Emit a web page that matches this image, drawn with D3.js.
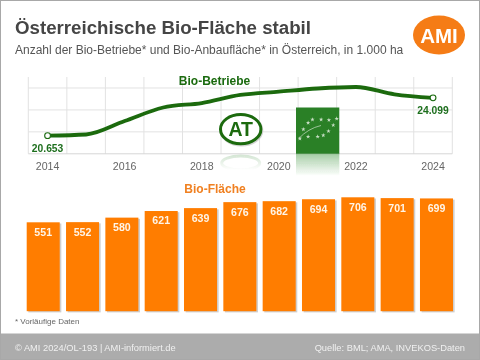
<!DOCTYPE html>
<html><head><meta charset="utf-8">
<script src="https://cdnjs.cloudflare.com/ajax/libs/d3/7.8.5/d3.min.js"></script>
<style>html,body{margin:0;padding:0;background:#fff}svg{display:block}text{font-family:"Liberation Sans",Arial,sans-serif}</style>
</head><body><svg id="c" width="480" height="360"></svg>
<script>
const years=[2014,2015,2016,2017,2018,2019,2020,2021,2022,2023,2024];
const betriebe=[20653,20760,21990,23220,23630,24360,24660,24950,25090,24420,24099];
const flaeche=[551,552,580,621,639,676,682,694,706,701,699];
const tickYears=[2014,2016,2018,2020,2022,2024];
const gridValues=[19000,21000,23000,25000];
const fmt=v=>d3.format(",")(v).replace(",",".");

const svg=d3.select("#c");
const defs=svg.append("defs");
const grad=(id,col,a)=>{const g=defs.append("linearGradient").attr("id",id).attr("x1",0).attr("y1",0).attr("x2",0).attr("y2",1);
 g.append("stop").attr("offset",0).attr("stop-color",col).attr("stop-opacity",a);
 g.append("stop").attr("offset",1).attr("stop-color",col).attr("stop-opacity",0);};
grad("rg","#2b8a2b",.42);grad("rg2","#1a6a10",.16);
defs.append("filter").attr("id","soft").append("feGaussianBlur").attr("stdDeviation",.4);

svg.append("rect").attr("width",480).attr("height",360).attr("fill","#fff");

const root=svg.append("g").attr("filter","url(#soft)");

// line chart scales
const x=d3.scaleBand().domain(years).range([28.3,452.3]);
const y=d3.scaleLinear().domain([19000,26000]).range([153.8,77]);
const cx=d=>x(d)+x.bandwidth()/2;

// grid
const grid=root.append("g").attr("stroke","#e2e2e2").attr("stroke-width",1);
grid.selectAll(".v").data(years.concat([null])).join("line")
 .attr("x1",d=>d===null?x.range()[1]:x(d)).attr("x2",d=>d===null?x.range()[1]:x(d))
 .attr("y1",y.range()[1]).attr("y2",y.range()[0]);
grid.selectAll(".h").data(gridValues).join("line")
 .attr("x1",x.range()[0]).attr("x2",x.range()[1]).attr("y1",d=>y(d)).attr("y2",d=>y(d))
 .attr("stroke",d=>d===19000?"#d6d6d6":"#e2e2e2");

// AT logo
const at=root.append("g").attr("transform","translate(240.7,129.2)");
at.append("ellipse").attr("cx",.8).attr("cy",1).attr("rx",20.3).attr("ry",14.8).attr("fill","none").attr("stroke","#aaa").attr("stroke-width",3).attr("opacity",.5);
at.append("ellipse").attr("rx",20.2).attr("ry",14.6).attr("fill","#fff").attr("stroke","#1a6a10").attr("stroke-width",3);
at.append("text").attr("text-anchor","middle").attr("y",7).attr("font-size",19.5).attr("font-weight",700).attr("fill","#1a6a10").text("AT");
root.append("ellipse").attr("cx",240.7).attr("cy",163).attr("rx",19).attr("ry",7).attr("fill","none").attr("stroke","url(#rg2)").attr("stroke-width",3);

// EU organic leaf
const leafX=296,leafY=107.5,leafW=43.3,leafH=46.3;
root.append("rect").attr("x",leafX).attr("y",leafY+leafH).attr("width",leafW).attr("height",22).attr("fill","url(#rg)");
root.append("rect").attr("x",leafX).attr("y",leafY).attr("width",leafW).attr("height",leafH).attr("fill","#2a8028");
const starsAt=[[.38,.26],[.58,.26],[.76,.27],[.94,.24],[.86,.38],[.75,.51],[.63,.6],[.5,.63],[.28,.63],[.09,.67],[.17,.47],[.28,.33]];
const star=d3.symbol().type(d3.symbolStar).size(6)();
root.selectAll(".star").data(starsAt).join("path").attr("d",star).attr("fill","#c9dec4")
 .attr("transform",d=>`translate(${leafX+d[0]*leafW},${leafY+d[1]*leafH})`);
root.append("path").attr("d",`M${leafX+2.5},${leafY+leafH-15} Q${leafX+12},${leafY+21} ${leafX+25},${leafY+18}`)
 .attr("fill","none").attr("stroke","#c9dec4").attr("stroke-width",.7);

// line
const line=d3.line().x((d,i)=>cx(years[i])).y(d=>y(d)).curve(d3.curveMonotoneX);
root.append("path").datum(betriebe).attr("d",line).attr("fill","none").attr("stroke","#1a6a10").attr("stroke-width",3.8).attr("stroke-linecap","round");
const ends=[0,betriebe.length-1];
root.selectAll(".end").data(ends).join("circle").attr("cx",i=>cx(years[i])).attr("cy",i=>y(betriebe[i])).attr("r",2.9)
 .attr("fill","#fff").attr("stroke","#1a6a10").attr("stroke-width",1.1);
root.selectAll(".endl").data(ends).join("text").attr("x",i=>cx(years[i])).attr("y",i=>y(betriebe[i])+16.2)
 .attr("text-anchor","middle").attr("font-size",10.3).attr("font-weight",700).attr("fill","#1f6f1f").text(i=>fmt(betriebe[i]));

// year ticks
root.selectAll(".yr").data(tickYears).join("text").attr("x",cx).attr("y",170.3).attr("text-anchor","middle")
 .attr("font-size",10.6).attr("fill","#666").text(d=>d);

// bars
const bx=d3.scaleBand().domain(years).range([23.7,456]).paddingInner(6.3/39.33).paddingOuter(3/39.33);
const by=d3.scaleLinear().domain([0,706]).range([311.2,197.3]);
const bars=root.append("g");
bars.selectAll(".sh").data(flaeche).join("rect").attr("x",(d,i)=>bx(years[i])+1.6).attr("y",d=>by(d)+1.2)
 .attr("width",bx.bandwidth()).attr("height",d=>by(0)-by(d)).attr("fill","#cfcfcf");
bars.selectAll(".b").data(flaeche).join("rect").attr("x",(d,i)=>bx(years[i])).attr("y",d=>by(d))
 .attr("width",bx.bandwidth()).attr("height",d=>by(0)-by(d)).attr("fill","#ff7d00");
bars.selectAll(".bl").data(flaeche).join("text").attr("x",(d,i)=>bx(years[i])+bx.bandwidth()/2).attr("y",d=>by(d)+13.4)
 .attr("text-anchor","middle").attr("font-size",10.6).attr("font-weight",700).attr("fill","#fff5e8").text(d=>d);

// titles
root.append("text").attr("x",15).attr("y",33.5).attr("font-size",18.7).attr("font-weight",700).attr("fill","#454545").text("Österreichische Bio-Fläche stabil");
root.append("text").attr("x",15).attr("y",54).attr("font-size",12).attr("fill","#555").text("Anzahl der Bio-Betriebe* und Bio-Anbaufläche* in Österreich, in 1.000 ha");
root.append("text").attr("x",214.5).attr("y",85).attr("text-anchor","middle").attr("font-size",12).attr("font-weight",700).attr("fill","#1a6a10").text("Bio-Betriebe");
root.append("text").attr("x",215).attr("y",193).attr("text-anchor","middle").attr("font-size",12).attr("font-weight",700).attr("fill","#f08020").text("Bio-Fläche");
root.append("text").attr("x",15).attr("y",323.5).attr("font-size",8).attr("fill","#666").text("* Vorläufige Daten");

// AMI logo
root.append("ellipse").attr("cx",439).attr("cy",35).attr("rx",26).attr("ry",19.5).attr("fill","#f57c14");
root.append("text").attr("x",439).attr("y",42.5).attr("text-anchor","middle").attr("font-size",20.5).attr("font-weight",700).attr("fill","#fff").text("AMI");

// footer
root.append("rect").attr("x",0).attr("y",333.5).attr("width",480).attr("height",26.5).attr("fill","#acacac");
root.append("text").attr("x",15).attr("y",351).attr("font-size",9.3).attr("fill","#f0f0f0").text("© AMI 2024/OL-193 | AMI-informiert.de");
root.append("text").attr("x",465).attr("y",351).attr("text-anchor","end").attr("font-size",9.3).attr("fill","#f0f0f0").text("Quelle: BML; AMA, INVEKOS-Daten");

// frame
svg.append("rect").attr("x",.5).attr("y",.5).attr("width",479).attr("height",359).attr("fill","none").attr("stroke","#a8a8a8");
</script></body></html>
